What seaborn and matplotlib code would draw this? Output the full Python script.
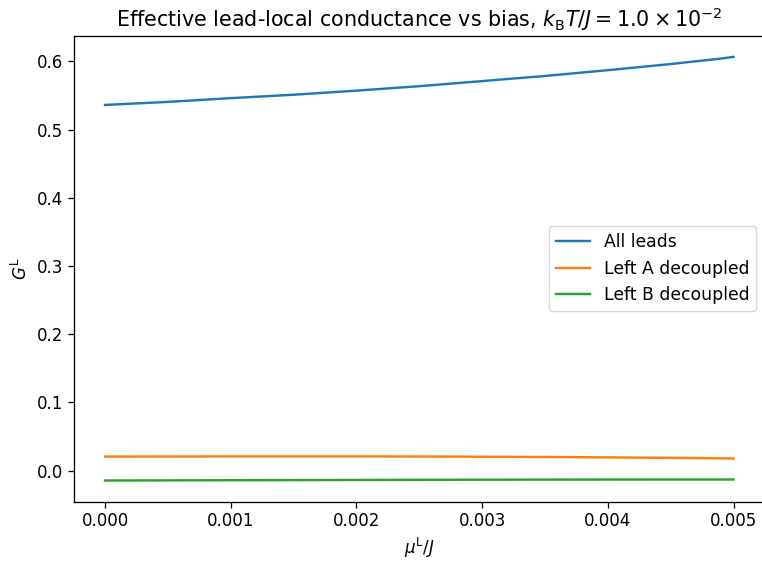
import matplotlib
matplotlib.use("Agg")
import matplotlib.pyplot as plt
import seaborn as sns
import pandas as pd

bias = [0.0, 0.0005, 0.001, 0.0015, 0.002, 0.0025, 0.003, 0.0035, 0.004, 0.0045, 0.0049, 0.005]
g_all = [0.536, 0.5405, 0.546, 0.551, 0.557, 0.5635, 0.571, 0.5785, 0.587, 0.596, 0.604, 0.6065]
g_left_a = [0.0205, 0.0206, 0.0207, 0.0207, 0.0207, 0.0206, 0.0203, 0.0199, 0.0193, 0.0186, 0.0179, 0.0177]
g_left_b = [-0.0146, -0.0144, -0.0142, -0.0140, -0.0138, -0.0136, -0.0134, -0.0133, -0.0132, -0.0131, -0.0131, -0.0131]
labels = ["All leads", "Left A decoupled", "Left B decoupled"]

df = pd.concat([
    pd.DataFrame({"bias": bias, "G": g, "series": lab})
    for g, lab in zip([g_all, g_left_a, g_left_b], labels)
])

s = 1.16
plt.rcParams.update({
    "font.size": 12,
    "xtick.labelsize": 12,
    "ytick.labelsize": 12,
    "axes.labelsize": 12,
    "legend.fontsize": 12.4,
    "xtick.major.size": 3.5 * s,
    "ytick.major.size": 3.5 * s,
    "xtick.major.width": 0.8 * s,
    "ytick.major.width": 0.8 * s,
    "axes.linewidth": 0.8 * s,
})

fig = plt.figure(figsize=(7.62, 5.63), dpi=100)
ax = fig.add_axes([0.0966, 0.1089, 1.0039 - 0.0966, 0.9366 - 0.1089])
sns.lineplot(data=df, x="bias", y="G", hue="series", hue_order=labels,
             palette=["#1f77b4", "#ff7f0e", "#2ca02c"], linewidth=1.5 * s, ax=ax)
ax.set_xlabel(r"$\mu^{\mathrm{L}}/J$")
ax.set_ylabel(r"$G^{\mathrm{L}}$")
title = ax.set_title(r"Effective lead-local conductance vs bias, $k_{\mathrm{B}}T/J = 1.0 \times 10^{-2}$",
                     fontsize=14.0)
ax.set_xticks([0, 0.001, 0.002, 0.003, 0.004, 0.005])
ax.set_xticklabels(["0.000", "0.001", "0.002", "0.003", "0.004", "0.005"])
ax.set_yticks([0.0, 0.1, 0.2, 0.3, 0.4, 0.5, 0.6])
ax.legend(title=None, loc="center right")

# fit the title to span the same pixel width as the reference (about x=114..723)
fig.canvas.draw()
bb = title.get_window_extent()
title.set_fontsize(14.0 * 609.0 / bb.width)

fig.savefig("out.png", dpi=100)
